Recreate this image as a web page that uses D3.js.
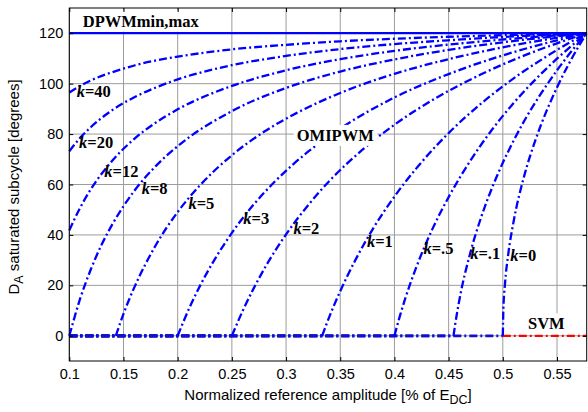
<!DOCTYPE html>
<html><head><meta charset="utf-8">
<script src="https://cdn.jsdelivr.net/npm/d3@7"></script>
<style>body{margin:0;background:#fff}svg{display:block}</style>
</head><body>
<svg id="c" width="588" height="412"></svg>
<script>
// ---------- data ----------
const xTicks = [0.1, 0.15, 0.2, 0.25, 0.3, 0.35, 0.4, 0.45, 0.5, 0.55];
const xTickLabels = ["0.1","0.15","0.2","0.25","0.3","0.35","0.4","0.45","0.5","0.55"];
const yTicks = [0, 20, 40, 60, 80, 100, 120];
const ampMin = 0.1, ampMax = 0.5774;
const dpwmLevel = 120, svmLevel = 0, svmStart = 0.5;

const kNames = ["0", ".1", ".5", "1", "2", "3", "5", "8", "12", "20", "40"];
const onsetAmp = [0.5, 0.4545, 0.4, 0.3333, 0.25, 0.2, 0.1429, 0.1, null, null, null];

const ampK0  = [0.5, 0.5005, 0.502, 0.505, 0.51, 0.52, 0.53, 0.54, 0.55, 0.56, 0.57, 0.5774];
const satK0  = [0, 10.2, 20.5, 32.3, 45.4, 63.8, 77.5, 88.8, 98.5, 107.1, 114.8, 120];
const ampK01 = [0.4545, 0.456, 0.46, 0.47, 0.48, 0.49, 0.50, 0.51, 0.52, 0.535, 0.55, 0.565, 0.5774];
const satK01 = [0, 4.4, 14.4, 32.9, 47.0, 58.6, 68.6, 77.4, 85.4, 95.9, 105.3, 113.7, 120];
const ampK05 = [0.4, 0.405, 0.41, 0.42, 0.435, 0.45, 0.47, 0.49, 0.51, 0.53, 0.55, 0.565, 0.5774];
const satK05 = [0, 7.8, 14.8, 27.0, 42.3, 55.0, 69.4, 81.7, 92.3, 101.6, 109.9, 115.6, 120];
const ampK1  = [0.3333, 0.34, 0.35, 0.365, 0.38, 0.40, 0.42, 0.45, 0.48, 0.51, 0.54, 0.56, 0.5774];
const satK1  = [0, 7.6, 17.7, 30.9, 42.3, 55.2, 66.3, 80.4, 92.1, 102.1, 110.7, 115.9, 120];
const ampK2  = [0.25, 0.26, 0.27, 0.285, 0.30, 0.32, 0.34, 0.37, 0.40, 0.44, 0.48, 0.52, 0.55, 0.5774];
const satK2  = [0, 9.9, 18.7, 30.3, 40.2, 51.6, 61.4, 73.6, 83.7, 94.7, 103.7, 111.2, 116.0, 120];
const ampK3  = [0.2, 0.21, 0.22, 0.235, 0.25, 0.27, 0.29, 0.32, 0.35, 0.40, 0.45, 0.50, 0.54, 0.5774];
const satK3  = [0, 10.3, 19.3, 30.9, 40.8, 52.0, 61.3, 72.9, 82.2, 94.5, 103.8, 111.2, 116.1, 120];
const ampK5  = [0.1429, 0.15, 0.16, 0.17, 0.18, 0.20, 0.22, 0.25, 0.28, 0.31, 0.35, 0.40, 0.45, 0.50, 0.5774];
const satK5  = [0, 8.7, 19.2, 28.2, 36.1, 49.1, 59.4, 71.6, 81.0, 88.4, 96.3, 103.9, 109.7, 114.4, 120];
const ampK8  = [0.1, 0.11, 0.12, 0.13, 0.14, 0.16, 0.18, 0.20, 0.25, 0.30, 0.35, 0.40, 0.45, 0.50, 0.5774];
const satK8  = [0, 14.7, 26.5, 36.3, 44.4, 57.5, 67.4, 75.2, 89.1, 98.3, 104.8, 109.6, 113.4, 116.4, 120];
const ampHigh = [0.1, 0.11, 0.12, 0.14, 0.16, 0.18, 0.20, 0.25, 0.30, 0.35, 0.40, 0.45, 0.50, 0.5774];
const satK12 = [41.8, 50.8, 58.2, 69.6, 78.1, 84.6, 89.8, 99.1, 105.3, 109.7, 113.0, 115.5, 117.5, 120];
const satK20 = [73.2, 78.5, 82.8, 89.6, 94.6, 98.5, 101.7, 107.3, 111.0, 113.7, 115.7, 117.2, 118.5, 120];
const satK40 = [96.5, 99.1, 101.3, 104.6, 107.2, 109.2, 110.7, 113.6, 115.4, 116.8, 117.8, 118.6, 119.2, 120];

const curveAmps = [ampK0, ampK01, ampK05, ampK1, ampK2, ampK3, ampK5, ampK8, ampHigh, ampHigh, ampHigh];
const curveSats = [satK0, satK01, satK05, satK1, satK2, satK3, satK5, satK8, satK12, satK20, satK40];

// annotation anchors (data coordinates)
const kLabelAmp = [0.5069, 0.4699, 0.4268, 0.3746, 0.3068, 0.2606, 0.2099, 0.1668, 0.1323, 0.109, 0.1068];
const kLabelSat = [29.7, 30.3, 32.4, 35.3, 40.4, 44.2, 50.2, 56.2, 62.9, 74.4, 94.8];
const noteTexts = ["DPWMmin,max", "OMIPWM", "SVM"];
const noteAmp = [0.1124, 0.3099, 0.5232];
const noteSat = [122.6, 77.3, 2.6];

// ---------- drawing ----------
const svg = d3.select('#c');
const L = 69.3, R = 586.7, T = 8, B = 361;
const x = d3.scaleLinear().domain([ampMin, ampMax]).range([L, R]);
const y = d3.scaleLinear().domain([-10, 130]).range([B, T]);
const SERIF = "'Liberation Serif','Times New Roman',serif";
const SANS = "'Liberation Sans',Arial,Helvetica,sans-serif";
const BLUE = "#0000ff";
const DASH = "8,3,2,3";

svg.append('rect').attr('x', L).attr('y', T).attr('width', R - L).attr('height', B - T).attr('fill', '#fff');

// grid
const grid = svg.append('g').attr('stroke', '#9c9c9c').attr('stroke-width', 1);
grid.selectAll('.gx').data(xTicks).join('line')
  .attr('x1', d => x(d)).attr('x2', d => x(d)).attr('y1', T).attr('y2', B);
grid.selectAll('.gy').data(yTicks).join('line')
  .attr('x1', L).attr('x2', R).attr('y1', d => y(d)).attr('y2', d => y(d));

// SVM (red) along zero
svg.append('line').attr('x1', x(svmStart)).attr('x2', x(ampMax)).attr('y1', y(svmLevel)).attr('y2', y(svmLevel))
  .attr('stroke', '#ff0000').attr('stroke-width', 2.3).attr('stroke-dasharray', DASH);

// curves
const line = d3.line().x(d => x(d[0])).y(d => y(d[1])).curve(d3.curveMonotoneX);
const cg = svg.append('g').attr('fill', 'none').attr('stroke', BLUE).attr('stroke-width', 2.3).attr('stroke-dasharray', DASH);
kNames.forEach((k, i) => {
  if (onsetAmp[i] !== null && onsetAmp[i] > ampMin) {
    cg.append('line').attr('x1', x(ampMin)).attr('x2', x(onsetAmp[i]))
      .attr('y1', y(svmLevel)).attr('y2', y(svmLevel)).attr('stroke', '#1010d0').attr('stroke-width', 2.8);
  }
  const pts = curveAmps[i].map((a, j) => [a, curveSats[i][j]]);
  cg.append('path').attr('d', line(pts));
});

// DPWM line at 120
svg.append('line').attr('x1', x(ampMin)).attr('x2', x(ampMax)).attr('y1', y(dpwmLevel)).attr('y2', y(dpwmLevel))
  .attr('stroke', BLUE).attr('stroke-width', 2.3);

// k labels
const kl = svg.append('g').attr('font-family', SERIF).attr('font-size', 16.5).attr('font-weight', 'bold').attr('fill', '#000');
kNames.forEach((k, i) => {
  const t = kl.append('text').attr('x', x(kLabelAmp[i])).attr('y', y(kLabelSat[i]));
  t.append('tspan').attr('font-style', 'italic').text('k');
  t.append('tspan').text('=' + k);
});

// notes with white background
const ng = svg.append('g');
noteTexts.forEach((s, i) => {
  const g = ng.append('g');
  const t = g.append('text').attr('x', x(noteAmp[i])).attr('y', y(noteSat[i]))
    .attr('font-family', SERIF).attr('font-size', 16.5).attr('font-weight', 'bold').attr('fill', '#000').text(s);
  const bb = t.node().getBBox();
  g.insert('rect', 'text').attr('x', bb.x - 3).attr('y', bb.y - 1).attr('width', bb.width + 6).attr('height', bb.height + 2).attr('fill', '#fff');
});

// axes box and ticks
svg.append('rect').attr('x', L).attr('y', T).attr('width', R - L).attr('height', B - T)
  .attr('fill', 'none').attr('stroke', '#000').attr('stroke-width', 1);

svg.append('g').attr('transform', `translate(0,${B})`)
  .call(d3.axisBottom(x).tickValues(xTicks).tickFormat((d, i) => xTickLabels[i]).tickSizeInner(-4).tickSizeOuter(0).tickPadding(8));
svg.append('g').attr('transform', `translate(${L},0)`)
  .call(d3.axisLeft(y).tickValues(yTicks).tickSizeInner(-4).tickSizeOuter(0).tickPadding(6));
svg.append('g').attr('transform', `translate(0,${T})`)
  .call(d3.axisTop(x).tickValues(xTicks).tickFormat('').tickSizeInner(-4).tickSizeOuter(0));
svg.append('g').attr('transform', `translate(${R},0)`)
  .call(d3.axisRight(y).tickValues(yTicks).tickFormat('').tickSizeInner(-4).tickSizeOuter(0));
svg.selectAll('.domain').remove();
svg.selectAll('.tick line').attr('stroke', '#000');
svg.selectAll('.tick text').attr('font-family', SANS).attr('font-size', 14.5).attr('fill', '#000');

// axis titles
const xt = svg.append('text').attr('x', (L + R) / 2).attr('y', 399.5).attr('text-anchor', 'middle')
  .attr('font-family', SANS).attr('font-size', 15).attr('fill', '#000');
xt.append('tspan').text('Normalized reference amplitude [% of E');
xt.append('tspan').attr('font-size', 12.5).attr('dy', 4).text('DC');
xt.append('tspan').attr('dy', -4).text(']');

const yt = svg.append('text').attr('transform', 'translate(18.5,187) rotate(-90)').attr('text-anchor', 'middle')
  .attr('font-family', SANS).attr('font-size', 15).attr('fill', '#000');
yt.append('tspan').text('D');
yt.append('tspan').attr('font-size', 12.5).attr('dy', 4).text('A');
yt.append('tspan').attr('dy', -4).text(' saturated subcycle [degrees]');
</script>
</body></html>
